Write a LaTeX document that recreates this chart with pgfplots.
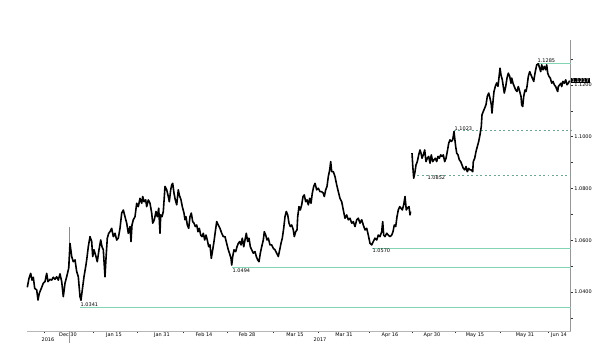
\documentclass[border=0pt]{standalone}
\usepackage{fontspec}
\setmainfont{DejaVu Sans}
\usepackage{pgfplots}
\usepackage{pgfplotstable}
\pgfplotsset{compat=1.18}
\definecolor{mint}{RGB}{130,212,180}
\definecolor{dashc}{RGB}{110,165,150}
\definecolor{axgray}{RGB}{150,150,150}
\newcommand{\sm}{\fontsize{5}{6}\selectfont}
\pgfplotstableread{
x v
27.3 1.0418
29 1.0453
30.7 1.0472
32 1.0446
33.3 1.0457
34.7 1.0414
36.7 1.0408
38 1.0369
39.3 1.0395
41.3 1.0414
43.3 1.0434
45 1.0440
46.7 1.0472
48 1.0440
50 1.0449
51.7 1.0446
53.3 1.0457
55 1.0449
56.7 1.0459
58.3 1.0446
60 1.0470
61.7 1.0440
63.3 1.0382
65 1.0434
66.7 1.0459
68.7 1.0492
70 1.0588
71.7 1.0537
73.3 1.0517
75 1.0524
76.7 1.0479
78.3 1.0459
80 1.0382
81 1.0368
82.3 1.0408
84 1.0459
85.7 1.0498
86.7 1.0524
88.3 1.0575
90 1.0614
91.7 1.0595
92.7 1.0537
94 1.0563
96 1.0537
97.3 1.0517
99 1.0563
100.7 1.0601
102 1.0575
103.3 1.0563
105 1.0459
106 1.0530
107.3 1.0608
108.7 1.0627
110 1.0633
111.7 1.0646
113.3 1.0614
115 1.0627
116.7 1.0601
118.3 1.0608
120 1.0646
121.7 1.0705
123.3 1.0717
125 1.0691
126.7 1.0666
128.3 1.0627
130 1.0653
131 1.0595
132 1.0659
133.3 1.0679
135 1.0691
136.7 1.0743
138.3 1.0730
140 1.0762
141.7 1.0743
142.7 1.0769
144 1.0749
145.7 1.0756
146.7 1.0730
148.3 1.0756
150 1.0743
151.7 1.0705
152.7 1.0666
154.3 1.0679
156 1.0711
157.3 1.0691
158.7 1.0724
160 1.0627
160.7 1.0698
162 1.0691
163.3 1.0711
165 1.0808
166.7 1.0795
168.3 1.0769
169.3 1.0749
170.7 1.0795
171.7 1.0814
172.7 1.0820
174 1.0782
175.3 1.0756
176.7 1.0737
178.3 1.0795
179.3 1.0775
181 1.0756
182.3 1.0730
184 1.0705
185 1.0679
186 1.0691
187.3 1.0659
188.7 1.0646
190 1.0691
191.3 1.0705
192.7 1.0672
194 1.0666
195.3 1.0653
196.7 1.0659
198 1.0633
199.3 1.0646
200.7 1.0620
202 1.0614
203.3 1.0627
204.7 1.0601
206 1.0620
207.3 1.0601
208.7 1.0575
210 1.0582
211.3 1.0530
212.7 1.0563
214 1.0595
215.3 1.0633
216.7 1.0672
218.3 1.0659
220 1.0646
221.7 1.0627
223.3 1.0614
225 1.0614
226.7 1.0588
228.3 1.0563
230 1.0543
231 1.0530
231.7 1.0504
232.7 1.0537
234 1.0563
235.7 1.0556
237 1.0575
238.3 1.0588
239.7 1.0595
241 1.0582
242.3 1.0608
243.7 1.0575
245 1.0601
246.3 1.0627
247.7 1.0595
249 1.0608
250.3 1.0575
251.7 1.0563
253.3 1.0550
255 1.0556
256.3 1.0537
257.7 1.0524
259 1.0517
260.3 1.0550
261.7 1.0575
263.3 1.0601
264.3 1.0633
265.7 1.0620
267 1.0601
268.3 1.0608
270 1.0582
271.7 1.0582
273.3 1.0569
275 1.0563
276.7 1.0550
278.3 1.0537
279.7 1.0563
281 1.0588
282.3 1.0608
283.7 1.0646
285 1.0691
286.3 1.0711
287.7 1.0698
289 1.0666
290.3 1.0653
291.7 1.0659
293.3 1.0640
294.3 1.0614
295.7 1.0633
297 1.0640
297.7 1.0691
299 1.0730
300.3 1.0717
301.7 1.0737
303 1.0769
304.3 1.0775
305.7 1.0749
307 1.0756
308.3 1.0737
309.7 1.0762
311 1.0743
312.3 1.0782
313.7 1.0808
315 1.0820
316.7 1.0795
318.3 1.0801
320 1.0788
321.7 1.0788
323.3 1.0782
324.3 1.0769
325.7 1.0795
327 1.0808
328.3 1.0846
329.7 1.0872
330.7 1.0904
331.7 1.0865
333.3 1.0865
335 1.0846
336.7 1.0814
338.3 1.0788
340 1.0762
341.7 1.0749
343.3 1.0717
345 1.0685
346.7 1.0698
348.3 1.0679
350 1.0685
351.7 1.0666
353.3 1.0672
355 1.0653
356.7 1.0679
358.3 1.0685
360 1.0666
361.7 1.0679
363.3 1.0659
365 1.0640
366.7 1.0646
368.3 1.0620
370 1.0588
371.7 1.0582
373.3 1.0595
375 1.0608
376.7 1.0601
378.3 1.0620
380 1.0614
381.7 1.0633
382.7 1.0672
383.7 1.0620
385 1.0614
386.7 1.0627
388.3 1.0620
390 1.0614
391.7 1.0620
393 1.0633
394.3 1.0659
395.7 1.0653
397 1.0691
398.3 1.0717
399.7 1.0730
401 1.0724
402.3 1.0717
403.7 1.0737
405 1.0769
406.3 1.0717
407.3 1.0724
409 1.0730
410 1.0698
410.6 1.0711
411 nan
412 1.0937
412.8 1.0885
413.7 1.0840
415 1.0865
416 1.0891
417.3 1.0904
418.7 1.0930
420 1.0949
421 1.0937
422 1.0917
423.3 1.0930
424.7 1.0949
426 1.0904
427.3 1.0917
428.7 1.0924
430 1.0898
431.3 1.0930
432.7 1.0904
434 1.0911
435.3 1.0917
436.7 1.0904
438 1.0924
439.3 1.0917
440.7 1.0930
442 1.0924
443.3 1.0930
444.7 1.0904
446 1.0917
447.3 1.0943
448.7 1.0975
450 1.0988
451.3 1.0982
452.7 1.0988
454 1.1020
454.7 1.0995
455.7 1.0962
456.7 1.0937
458 1.0930
459.3 1.0911
460.7 1.0904
462 1.0891
463.3 1.0878
464.7 1.0872
466 1.0885
467.3 1.0865
468.7 1.0878
470 1.0872
471.3 1.0872
472.7 1.0865
473.3 1.0904
474.7 1.0917
476 1.0943
477.3 1.0962
478.7 1.0982
480 1.1008
481.3 1.1040
482 1.1085
483.3 1.1098
484.7 1.1111
486 1.1124
487.3 1.1156
488.7 1.1169
490 1.1149
491.3 1.1124
492 1.1092
493.3 1.1149
494 1.1175
495.3 1.1195
496.7 1.1208
498 1.1195
499.3 1.1240
500 1.1265
501 1.1239
502.3 1.1220
503.3 1.1194
504.3 1.1169
505.7 1.1194
507 1.1227
508.3 1.1246
509.7 1.1233
511 1.1207
511.7 1.1227
513 1.1207
514.3 1.1194
515.7 1.1181
517 1.1175
518.3 1.1194
519.7 1.1175
521 1.1156
521.7 1.1123
522.7 1.1117
523.7 1.1156
525 1.1181
526 1.1175
527 1.1194
528.3 1.1233
529.7 1.1252
531 1.1239
532.3 1.1227
533.7 1.1214
535 1.1246
536.7 1.1278
538.3 1.1282
539.7 1.1265
540.7 1.1252
541.7 1.1278
543 1.1259
544.3 1.1272
545.7 1.1259
546.7 1.1278
547.7 1.1246
549 1.1233
550.3 1.1227
551.7 1.1207
553 1.1214
554.3 1.1201
555.7 1.1194
557 1.1181
557.7 1.1175
558.3 1.1194
559.7 1.1201
561 1.1207
561.7 1.1194
563 1.1214
564.3 1.1207
565.7 1.1220
567 1.1201
568.3 1.1207
569.7 1.1217
}\price
\begin{document}
\begin{tikzpicture}
\path[use as bounding box] (-27bp,-28bp) rectangle (573bp,331bp);
\begin{axis}[
  at={(0,0)}, anchor=south west,
  scale only axis, width=543.7bp, height=291bp,
  xmin=27, xmax=570.7, ymin=1.02492, ymax=1.13741,
  clip=false,
  unbounded coords=jump,
  axis x line*=bottom, axis y line*=right,
  x axis line style={axgray!70, line width=0.8pt},
  y axis line style={axgray, line width=1.4pt},
  xtick={44,93,137,183,227,273,318,369,412,455,500,548},
  xticklabels={},
  extra x ticks={68,114,162,204,247,295,344,390,432,475,525,559},
  extra x tick labels={Dec 30,Jan 15,Jan 31,Feb 14,Feb 28,Mar 15,Mar 31,Apr 16,Apr 30,May 15,May 31,Jun 14},
  extra x tick style={major tick length=0pt},
  xticklabel style={font=\sm, inner sep=0pt, anchor=north, yshift=-1.8bp},
  ytick={1.04,1.06,1.08,1.10,1.12},
  minor ytick={1.03,1.05,1.07,1.09,1.11,1.13},
  /pgf/number format/assume math mode=true,
  yticklabel style={font=\sm, inner sep=0pt, anchor=west, xshift=1.5bp,
    /pgf/number format/fixed, /pgf/number format/fixed zerofill,
    /pgf/number format/precision=4},
  tick style={black!80, line width=0.6pt},
  major tick length=2bp, minor tick length=2bp,
  tick align=outside,
]
\addplot[mint, line width=1pt] coordinates {(80,1.0341) (570.7,1.0341)};
\addplot[mint, line width=1pt] coordinates {(232,1.0494) (570.7,1.0494)};
\addplot[mint, line width=1pt] coordinates {(372,1.0570) (570.7,1.0570)};
\addplot[mint, line width=1pt] coordinates {(537,1.1285) (570.7,1.1285)};
\addplot[dashc, line width=0.8pt, dash pattern=on 2pt off 2.5pt] coordinates {(413,1.0852) (570.7,1.0852)};
\addplot[dashc, line width=0.8pt, dash pattern=on 2pt off 2.5pt] coordinates {(454,1.1023) (570.7,1.1023)};
\addplot[black!45, line width=0.5pt] coordinates {(69.3,1.0653) (69.3,1.0500)};
\addplot[black, line width=1.6pt, line join=round] table[x=x, y=v] {\price};
\node[anchor=south west, inner sep=0.5pt, font=\sm] at (axis cs:80,1.0341) {1.0341};
\node[anchor=north west, inner sep=0.5pt, font=\sm] at (axis cs:232,1.0494) {1.0494};
\node[anchor=north west, inner sep=0.5pt, font=\sm] at (axis cs:372,1.0570) {1.0570};
\node[anchor=north west, inner sep=0.5pt, font=\sm] at (axis cs:427,1.0852) {1.0852};
\node[anchor=south west, inner sep=0.5pt, font=\sm] at (axis cs:454,1.1023) {1.1023};
\node[anchor=south west, inner sep=0.5pt, font=\sm] at (axis cs:537,1.1285) {1.1285};
\node[anchor=west, fill=black, text=white, inner sep=0.7pt, font=\sm] at (axis cs:570.7,1.1217) {1.1217};
\node[font=\sm] at (axis cs:48,1.0214) {2016};
\node[font=\sm] at (axis cs:320,1.0214) {2017};
\draw[axgray, line width=0.6pt] (axis cs:69,1.02492) -- (axis cs:69,1.0203);
\end{axis}
\end{tikzpicture}
\end{document}
